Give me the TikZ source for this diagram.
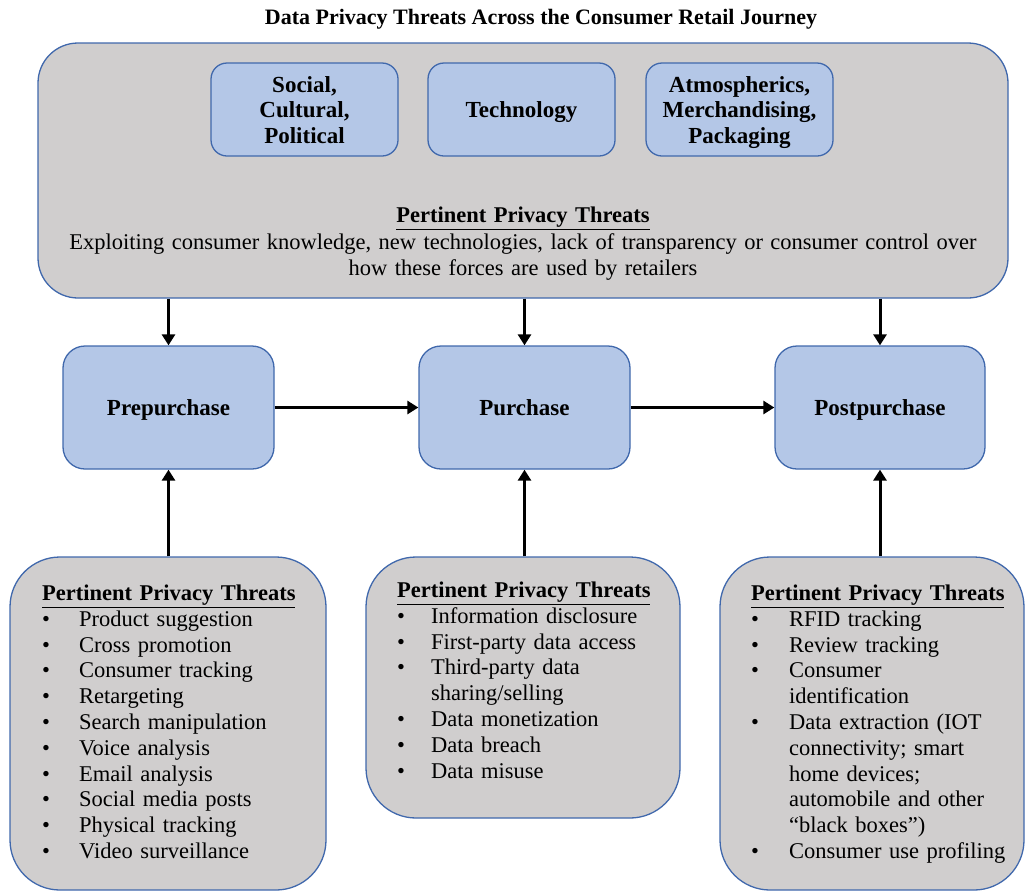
\documentclass[tikz,border=0pt]{standalone}
\usepackage{fontspec}
\setmainfont{Liberation Serif}
\usetikzlibrary{arrows.meta}
\definecolor{boxgray}{HTML}{D0CECE}
\definecolor{boxblue}{HTML}{B4C7E7}
\definecolor{edgeblue}{HTML}{4068AC}
\newcommand\bitem[2]{\makebox[#1][l]{\textbullet}#2}
\begin{document}
\begin{tikzpicture}[x=1pt,y=-1pt,
  bigbox/.style={draw=edgeblue, fill=boxgray, line width=1.3pt, inner sep=0pt},
  smallbox/.style={draw=edgeblue, fill=boxblue, line width=1.3pt, rounded corners=16pt, inner sep=0pt,
    minimum width=187pt, minimum height=93pt},
  smalltext/.style={inner sep=0pt, anchor=base, text width=185pt, align=center,
    font=\fontsize{23}{25.5}\selectfont\bfseries},
  stagebox/.style={draw=edgeblue, fill=boxblue, line width=1.3pt, rounded corners=22pt, inner sep=0pt,
    minimum width=211pt, minimum height=123pt, text height=20pt, text depth=5pt,
    font=\fontsize{23}{25.5}\selectfont\bfseries},
  txt/.style={inner sep=0pt, font=\fontsize{22.5}{25.8}\selectfont},
  arr/.style={line width=3pt, -{Triangle[length=11pt,width=13pt]}}]
\useasboundingbox (0,0) rectangle (1025,892);
% title
\node[inner sep=0pt, font=\fontsize{22}{26}\selectfont\bfseries, anchor=base] (title) at (541,24) {Data Privacy Threats Across the Consumer Retail Journey};
% top box
\node[bigbox, rounded corners=40pt, minimum width=970pt, minimum height=255pt] (forces) at (523,170.5) {};
\node[smallbox] (social) at (304.5,109.5) {};
\node[smallbox] (tech) at (521.5,109.5) {};
\node[smallbox] (atmos) at (739.5,109.5) {};
\node[smalltext] (socialtext) at (social.center |- 0,92) {Social,\\Cultural,\\Political};
\node[smalltext] (techtext) at (tech.center |- 0,117.5) {Technology};
\node[smalltext] (atmostext) at (atmos.center |- 0,92) {Atmospherics,\\Merchandising,\\Packaging};
\node[txt, font=\fontsize{22.5}{26.5}\selectfont, anchor=base, text width=960pt, align=center] (ftext) at (523,222.5)
  {\underline{\textbf{Pertinent Privacy Threats}}\\
   Exploiting consumer knowledge, new technologies, lack of transparency or consumer control over\\
   how these forces are used by retailers};
% stages
\node[stagebox] (pre) at (168.5,407.5) {Prepurchase};
\node[stagebox] (pur) at (524.5,407.5) {Purchase};
\node[stagebox, minimum width=210pt] (post) at (880,407.5) {Postpurchase};
% bottom boxes
\node[bigbox, rounded corners=50pt, minimum width=316pt, minimum height=333pt] (lthreat) at (168,723.5) {};
\node[bigbox, rounded corners=50pt, minimum width=314pt, minimum height=261pt] (mthreat) at (523,687.5) {};
\node[bigbox, rounded corners=50pt, minimum width=304pt, minimum height=333pt] (rthreat) at (872,723.5) {};
\node[txt, anchor=base west, text width=285pt, align=left] (ltext) at (42,600.5)
  {\underline{\textbf{Pertinent Privacy Threats}}\\
   \bitem{37pt}{Product suggestion}\\
   \bitem{37pt}{Cross promotion}\\
   \bitem{37pt}{Consumer tracking}\\
   \bitem{37pt}{Retargeting}\\
   \bitem{37pt}{Search manipulation}\\
   \bitem{37pt}{Voice analysis}\\
   \bitem{37pt}{Email analysis}\\
   \bitem{37pt}{Social media posts}\\
   \bitem{37pt}{Physical tracking}\\
   \bitem{37pt}{Video surveillance}};
\node[txt, anchor=base west, text width=285pt, align=left] (mtext) at (397,597.5)
  {\underline{\textbf{Pertinent Privacy Threats}}\\
   \bitem{34pt}{Information disclosure}\\
   \bitem{34pt}{First-party data access}\\
   \bitem{34pt}{Third-party data}\\
   \hspace*{34pt}sharing/selling\\
   \bitem{34pt}{Data monetization}\\
   \bitem{34pt}{Data breach}\\
   \bitem{34pt}{Data misuse}};
\node[txt, anchor=base west, text width=272pt, align=left] (rtext) at (751,600.5)
  {\underline{\textbf{Pertinent Privacy Threats}}\\
   \bitem{38pt}{RFID tracking}\\
   \bitem{38pt}{Review tracking}\\
   \bitem{38pt}{Consumer}\\
   \hspace*{38pt}identification\\
   \bitem{38pt}{Data extraction (IOT}\\
   \hspace*{38pt}connectivity; smart\\
   \hspace*{38pt}home devices;\\
   \hspace*{38pt}automobile and other\\
   \hspace*{38pt}“black boxes”)\\
   \bitem{38pt}{Consumer use profiling}};
% arrows
\draw[arr] (forces.south -| pre.north) -- (pre.north);
\draw[arr] (forces.south -| pur.north) -- (pur.north);
\draw[arr] (forces.south -| post.north) -- (post.north);
\draw[arr] (pre.east) -- (pur.west);
\draw[arr] (pur.east) -- (post.west);
\draw[arr] (lthreat.north -| pre.south) -- (pre.south);
\draw[arr] (mthreat.north -| pur.south) -- (pur.south);
\draw[arr] (rthreat.north -| post.south) -- (post.south);
\end{tikzpicture}
\end{document}
